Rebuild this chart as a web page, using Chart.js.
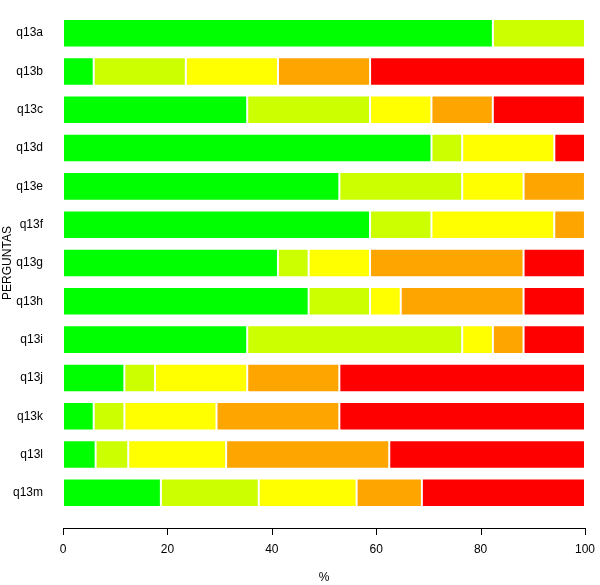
<!DOCTYPE html>
<html>
<head>
<meta charset="utf-8">
<script src="https://cdn.jsdelivr.net/npm/chart.js@4/dist/chart.umd.min.js"></script>
<style>
  html, body { margin: 0; padding: 0; background: #fff; }
  #wrap { width: 600px; height: 585px; }
</style>
</head>
<body>
<div id="wrap"><canvas id="chart" width="600" height="585"></canvas></div>
<script>
// questions, top to bottom
const questions = ["q13a", "q13b", "q13c", "q13d", "q13e", "q13f", "q13g",
                   "q13h", "q13i", "q13j", "q13k", "q13l", "q13m"];

// % of answers per level
const level1 = [82.35, 5.88, 35.29, 70.59, 52.94, 58.82, 41.18, 47.06, 35.29, 11.76, 5.88, 6.25, 18.75];
const level2 = [17.65, 17.65, 23.53, 5.88, 23.53, 11.76, 5.88, 11.76, 41.18, 5.88, 5.88, 6.25, 18.75];
const level3 = [0, 17.65, 11.76, 17.65, 11.76, 23.53, 11.76, 5.88, 5.88, 17.65, 17.65, 18.75, 18.75];
const level4 = [0, 17.65, 11.76, 0, 11.76, 5.88, 29.41, 23.53, 5.88, 17.65, 23.53, 31.25, 12.5];
const level5 = [0, 41.18, 17.65, 5.88, 0, 0, 11.76, 11.76, 11.76, 47.06, 47.06, 37.5, 31.25];

const levelColors = ["#00ff00", "#ccff00", "#ffff00", "#ffa500", "#ff0000"];
const xTicks = [0, 20, 40, 60, 80, 100];

const font = { family: "'Liberation Sans', Arial, sans-serif", size: 12 };
Chart.defaults.font = font;
Chart.defaults.color = "#000";

// R-style x axis: a line with tick marks, set a little below the bars
const rAxis = {
    id: "rAxis",
    afterDraw(chart) {
        const x = chart.scales.x;
        const ctx = chart.ctx;
        const y0 = chart.chartArea.bottom + 16;
        ctx.save();
        ctx.strokeStyle = "#000";
        ctx.lineWidth = 1;
        ctx.beginPath();
        ctx.moveTo(x.getPixelForValue(xTicks[0]), y0 + 0.5);
        ctx.lineTo(x.getPixelForValue(xTicks[xTicks.length - 1]), y0 + 0.5);
        xTicks.forEach(t => {
            const px = Math.round(x.getPixelForValue(t)) + 0.5;
            ctx.moveTo(px, y0);
            ctx.lineTo(px, y0 + 7);
        });
        ctx.stroke();
        ctx.restore();
    }
};

const series = [level1, level2, level3, level4, level5];

new Chart(document.getElementById("chart"), {
    type: "bar",
    data: {
        labels: questions,
        datasets: series.map((vals, i) => ({
            label: "level " + (i + 1),
            data: vals,
            backgroundColor: levelColors[i],
            borderColor: "#fff",
            borderWidth: 1,
            borderSkipped: false,
            barPercentage: 0.745,
            categoryPercentage: 1
        }))
    },
    options: {
        indexAxis: "y",
        responsive: false,
        animation: false,
        layout: { padding: { left: 0, right: 15, top: 14, bottom: 0 } },
        plugins: {
            legend: { display: false },
            tooltip: { enabled: false }
        },
        scales: {
            x: {
                stacked: true,
                min: 0,
                max: 100,
                afterBuildTicks: s => { s.ticks = xTicks.map(v => ({ value: v })); },
                grid: { display: false, drawTicks: false },
                border: { display: false },
                ticks: { padding: 30, font: font, color: "#000", maxRotation: 0 },
                title: { display: true, text: "%", padding: 0, font: font, color: "#000" },
                afterFit: s => { s.height = 73; s.paddingLeft = 0; s.paddingRight = 0; }
            },
            y: {
                stacked: true,
                grid: { display: false, drawTicks: false },
                border: { display: false },
                ticks: { padding: 20, font: font, color: "#000" },
                title: { display: true, text: "PERGUNTAS", padding: 0, font: font, color: "#000" },
                afterFit: s => { s.width = 63; s.paddingTop = 0; s.paddingBottom = 0; }
            }
        }
    },
    plugins: [rAxis]
});
</script>
</body>
</html>
